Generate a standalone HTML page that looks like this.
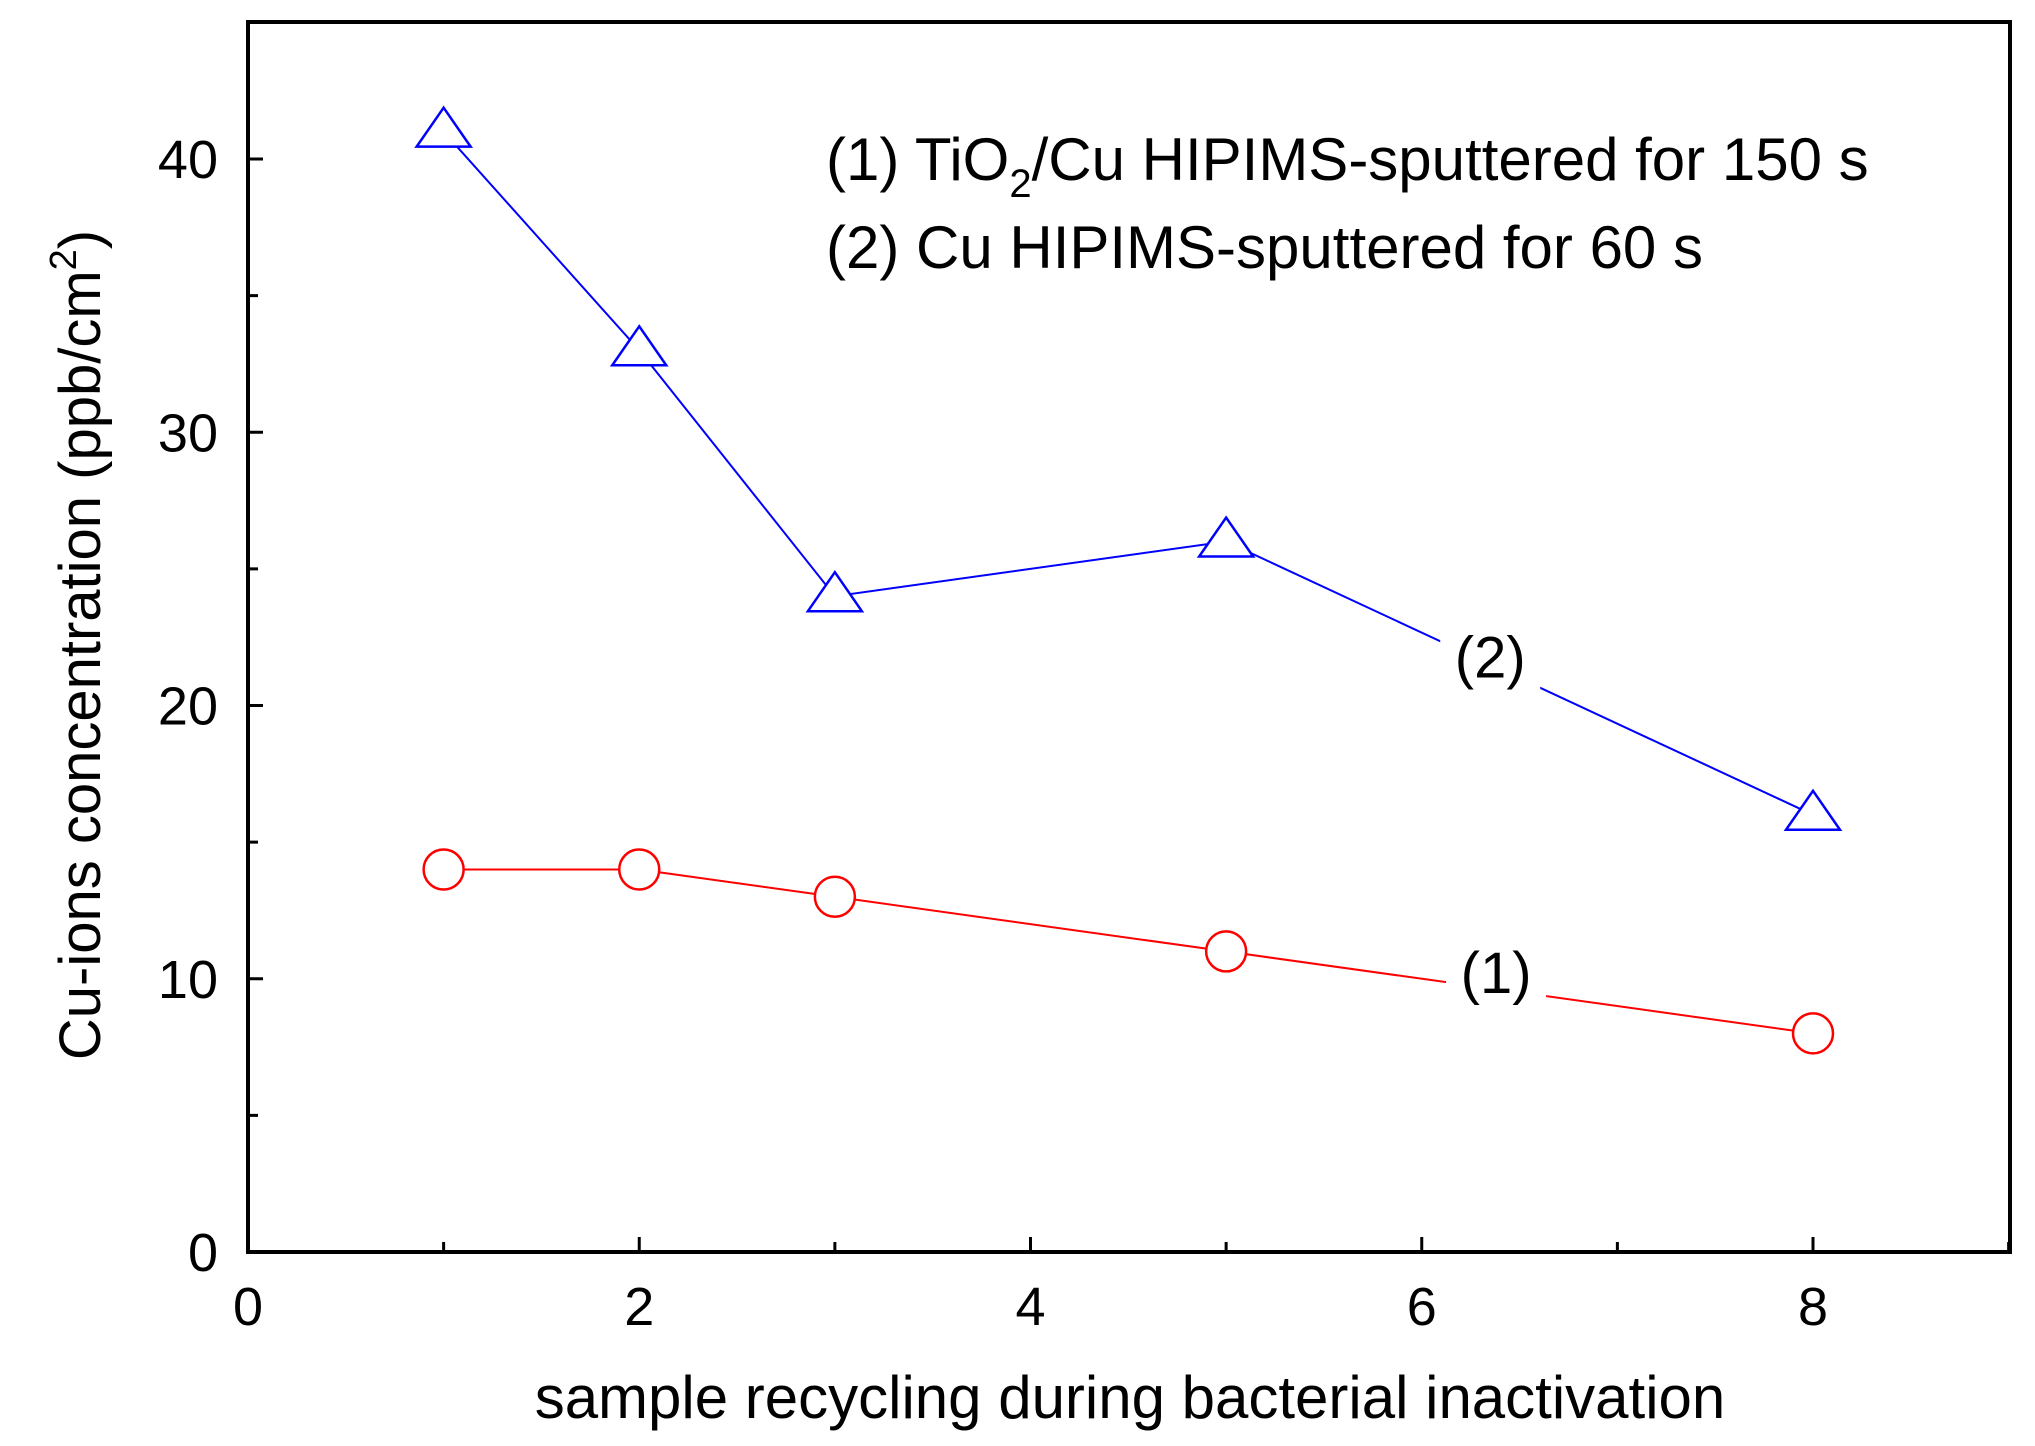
<!DOCTYPE html>
<html><head><meta charset="utf-8"><style>
html,body{margin:0;padding:0;background:#fff}
svg{display:block}
text{font-family:"Liberation Sans",Arial,sans-serif;fill:#000}
</style></head><body>
<svg id="chart" width="2035" height="1446" viewBox="0 0 2035 1446" xmlns="http://www.w3.org/2000/svg">
<g id="axes"></g>
<g id="series"></g>
<text x="1130" y="1418" font-size="60" text-anchor="middle">sample recycling during bacterial inactivation</text>
<text transform="translate(100,645) rotate(-90)" font-size="58" text-anchor="middle">Cu-ions concentration (ppb/cm<tspan font-size="38" dy="-24">2</tspan><tspan dy="24">)</tspan></text>
<text x="826" y="180" font-size="60">(1) TiO<tspan font-size="40" dy="17">2</tspan><tspan dy="-17">/Cu HIPIMS-sputtered for 150 s</tspan></text>
<text x="826" y="268" font-size="60">(2) Cu HIPIMS-sputtered for 60 s</text>
</svg>
<script>
const xs = [1, 2, 3, 5, 8];
const series2 = [41, 33, 24, 26, 16];
const series1 = [14, 14, 13, 11, 8];
const xTicks = [0, 2, 4, 6, 8];
const yTicks = [0, 10, 20, 30, 40];
const L=248,R=2010,T=22,B=1252;
const X=v=>L+(v)*(1813-L)/8;
const Y=v=>B-v*(B-159)/40;
const NS='http://www.w3.org/2000/svg';
function mk(tag,attrs,parent){const e=document.createElementNS(NS,tag);for(const k in attrs)e.setAttribute(k,attrs[k]);parent.appendChild(e);return e;}
const ax=document.getElementById('axes'), sg=document.getElementById('series');
const frame=mk('rect',{x:L,y:T,width:R-L,height:B-T,fill:'none',stroke:'#000','stroke-width':4},ax);


for(let v=0;v<=9;v++){const len=v%2===0?15:10;
 const t=mk('line',{x1:X(v),x2:X(v),y1:B,y2:B-len,stroke:'#000','stroke-width':3},ax);
 
 }
for(let v=0;v<=45;v+=5){const len=v%10===0?15:10;
 const t=mk('line',{x1:L,x2:L+len,y1:Y(v),y2:Y(v),stroke:'#000','stroke-width':3},ax);
 
 }
xTicks.forEach(v=>{const t=mk('text',{x:X(v),y:1325,'font-size':54,'text-anchor':'middle'},ax);t.textContent=v;
 
 });
yTicks.forEach(v=>{const t=mk('text',{x:218,y:Y(v)+19,'font-size':54,'text-anchor':'end'},ax);t.textContent=v;
 
 });
function drawSeries(vals,color,shape,name,lab,labIdx,labX,labDy){
 const pts=vals.map((v,i)=>[X(xs[i]),Y(v)]);
 const pl=mk('polyline',{points:pts.map(p=>p.join(',')).join(' '),fill:'none',stroke:color,'stroke-width':2},sg);
 
 
 const a=pts[labIdx],b=pts[labIdx+1];const mx=X(labX),my=a[1]+(b[1]-a[1])*((mx-a[0])/(b[0]-a[0]));
 const bg=mk('rect',{x:mx-50,y:my-32,width:100,height:64,fill:'#fff'},sg);
 
 
 const tl=mk('text',{x:mx,y:my+labDy,'font-size':58,'text-anchor':'middle'},sg);tl.textContent=lab;
 
 
 pts.forEach(p=>{let m;
  if(shape==='circle'){m=mk('circle',{cx:p[0],cy:p[1],r:20,fill:'#fff',stroke:color,'stroke-width':2.5},sg);}
  else{m=mk('polygon',{points:`${p[0]},${p[1]-24} ${p[0]-27},${p[1]+15} ${p[0]+27},${p[1]+15}`,fill:'#fff',stroke:color,'stroke-width':2.5},sg);}
  
  });
}
drawSeries(series2,'#0000ff','triangle','series-2','(2)',3,6.35,13);
drawSeries(series1,'#ff0000','circle','series-1','(1)',3,6.38,4);
</script>
</body></html>
